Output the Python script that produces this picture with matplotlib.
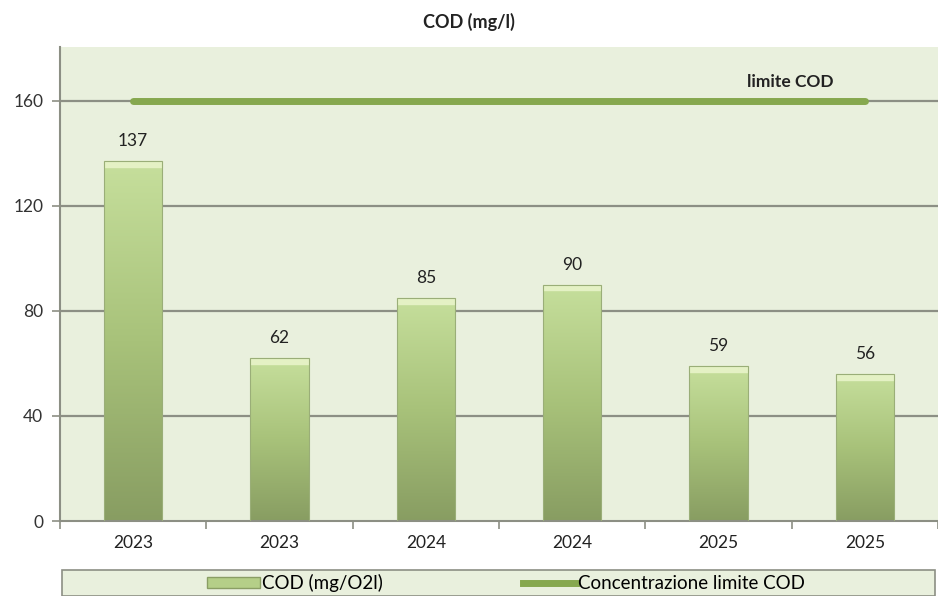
import matplotlib
matplotlib.use("Agg")
import matplotlib.pyplot as plt
import numpy as np
from matplotlib.patches import Patch, Rectangle
from matplotlib.lines import Line2D
from matplotlib.colors import LinearSegmentedColormap

categories = ["2023", "2023", "2024", "2024", "2025", "2025"]
cod_values = [137, 62, 85, 90, 59, 56]
limit_value = 160
yticks = [0, 40, 80, 120, 160]

plt.rcParams['font.family'] = ['Lato', 'DejaVu Sans']

fig = plt.figure(figsize=(9.38, 5.96), dpi=100)
fig.patch.set_facecolor("white")
ax = fig.add_axes([60/938, 1 - 521/596, (938-60)/938, (521-47)/596])
bg = "#e9f0dd"
ax.set_facecolor(bg)

x = np.arange(len(categories))
ax.set_xlim(-0.5, len(categories) - 0.5)
ax.set_ylim(0, 180.5)

for yv in yticks[1:]:
    ax.axhline(yv, color="#8c8f84", lw=1.6, zorder=1)

bars = ax.bar(x, cod_values, width=0.4, color="none", edgecolor="#9aae78", lw=0.8, zorder=3)
grad = np.linspace(0, 1, 256).reshape(-1, 1)
cmap = LinearSegmentedColormap.from_list("g", ["#889d62", "#a8c27a", "#c6df9c"])
for b in bars:
    x0, y0 = b.get_x(), b.get_y()
    w, h = b.get_width(), b.get_height()
    im = ax.imshow(grad, extent=(x0, x0 + w, y0, y0 + h), origin="lower",
                   cmap=cmap, aspect="auto", zorder=2)
    im.set_clip_path(b)
    ax.fill_between([x0, x0 + w], y0 + h - 2.2, y0 + h, color="#e4f1c4", zorder=2.5)
    ax.text(x0 + w / 2, y0 + h + 4.5, f"{int(h)}", ha="center", va="bottom",
            fontsize=12.5, color="#222222", zorder=4)

ax.plot(x, [limit_value] * len(x), color="#86a84e", lw=5, solid_capstyle="round", zorder=4)
ax.text(x[-1] - 0.51, limit_value + 4, "limite COD", ha="center", va="bottom",
        fontsize=12.5, fontweight="bold", color="#222222", zorder=5)

ax.set_yticks(yticks)
ax.set_yticklabels([str(v) for v in yticks], fontsize=12.5, color="#333333")
ax.set_xticks(x)
ax.set_xticklabels(categories, fontsize=12.5, color="#222222")
ax.set_xticks(np.arange(-0.5, len(categories)), minor=True)
ax.tick_params(axis="x", which="major", length=0, pad=10)
ax.tick_params(axis="x", which="minor", length=6, color="#8c8f84", width=1.2)
ax.tick_params(axis="y", length=6, color="#8c8f84", width=1.2, pad=6)
for s in ["top", "right"]:
    ax.spines[s].set_visible(False)
ax.spines["left"].set_color("#8c8f84")
ax.spines["left"].set_linewidth(1.5)
ax.spines["bottom"].set_color("#8c8f84")
ax.spines["bottom"].set_linewidth(1.5)

fig.text(0.5, 1 - 22/596, "COD (mg/l)", ha="center", va="center",
         fontsize=13, fontweight="bold", color="#222222")

# legend frame
fig.patches.append(Rectangle((62/938, 0.5/596), (935-62)/938, 26/596,
                             transform=fig.transFigure, facecolor=bg,
                             edgecolor="#8c8f84", lw=1.2, zorder=0))
handles = [Patch(facecolor="#b5cf88", edgecolor="#8a9e64"),
           Line2D([0], [0], color="#86a84e", lw=5)]
leg = fig.legend(handles, ["COD (mg/O2l)", "Concentrazione limite COD"],
                 loc="center", bbox_to_anchor=(506/938, 13/596),
                 ncol=2, frameon=False, fontsize=13.5, handlelength=2.8,
                 handleheight=0.5, handletextpad=0.1, columnspacing=7.5,
                 borderaxespad=0)

fig.savefig("out.png", dpi=100, facecolor="white")
